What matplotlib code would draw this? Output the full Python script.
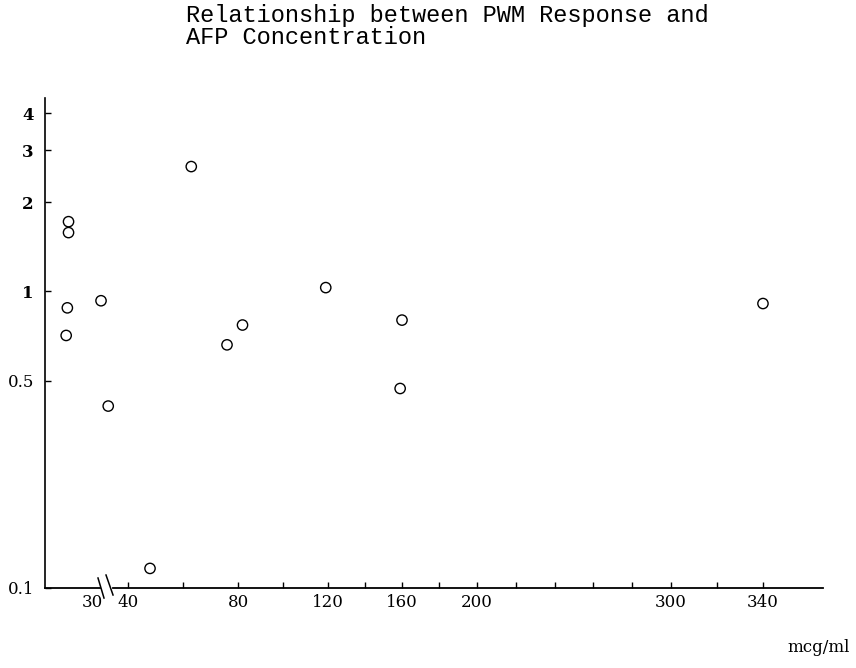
import numpy as np
import matplotlib
matplotlib.use('Agg')
import matplotlib.pyplot as plt
from matplotlib.scale import FuncScale

# AFP concentration (mcg/ml) and PWM response
conc = [20, 20, 19.5, 19, 32.5, 34.5, 48, 63, 76, 82, 119, 160, 159, 340]
response = [1.72, 1.58, 0.88, 0.71, 0.93, 0.41, 0.116, 2.64, 0.66, 0.77, 1.03, 0.80, 0.47, 0.91]

x_major = [30, 40, 80, 120, 160, 200, 300, 340]
x_minor = [60, 100, 140, 180, 220, 240, 260, 280, 320]
y_ticks = [0.1, 0.5, 1, 2, 3, 4]
y_labels = ['0.1', '0.5', '1', '2', '3', '4']

title = 'Relationship between PWM Response and\nAFP Concentration'
unit_label = 'mcg/ml'

# the printed x axis is broken after 30 and not evenly spaced,
# so map the labelled values to where they sit along the axis (in px)
axis_vals = [10, 30, 40, 80, 120, 160, 200, 300, 340, 366]
axis_px = [0, 47, 83, 193, 283, 357, 432, 626, 718, 778]


def forward(v):
    return np.interp(v, axis_vals, axis_px)


def inverse(p):
    return np.interp(p, axis_px, axis_vals)


fig = plt.figure(figsize=(8.56, 6.68), dpi=100)
ax = fig.add_axes([0.0526, 0.1205, 0.9088, 0.7328])

ax.scatter(conc, response, s=55, facecolors='none', edgecolors='black', linewidths=1.0, zorder=3)

ax.set_xscale(FuncScale(ax.xaxis, (forward, inverse)))
ax.set_yscale('log')
ax.set_xlim(10, 366)
ax.set_ylim(0.1, 4.5)

serif = 'DejaVu Serif'
ax.set_xticks(x_major)
ax.set_xticklabels([str(v) for v in x_major], family=serif, fontsize=12)
ax.set_xticks(x_minor, minor=True)
ax.set_xticklabels([], minor=True)
ax.xaxis.get_major_ticks()[0].tick1line.set_visible(False)

ax.set_yticks(y_ticks)
ax.set_yticklabels(y_labels, family=serif, fontsize=12)
ax.yaxis.set_minor_locator(matplotlib.ticker.NullLocator())
for lab in ax.get_yticklabels():
    if '.' not in lab.get_text():
        lab.set_fontweight('bold')

ax.tick_params(axis='x', which='both', direction='in', length=4, width=1, pad=5)
ax.tick_params(axis='y', which='both', direction='in', length=4, width=1, pad=8)

for side in ['top', 'right', 'bottom']:
    ax.spines[side].set_visible(False)
ax.spines['left'].set_linewidth(1.2)

# bottom axis line with a gap and break marks between 30 and 40
ax.plot([0, 0.0707], [0, 0], color='black', lw=1.3, transform=ax.transAxes, clip_on=False)
ax.plot([0.0874, 1], [0, 0], color='black', lw=1.3, transform=ax.transAxes, clip_on=False)
ax.plot([0.0681, 0.0758], [0.0194, -0.0215], color='black', lw=1.1, transform=ax.transAxes, clip_on=False)
ax.plot([0.0784, 0.0874], [0.0255, -0.0153], color='black', lw=1.1, transform=ax.transAxes, clip_on=False)

fig.text(0.2173, 0.994, title, family='Liberation Mono', fontsize=17,
         va='top', ha='left', linespacing=0.95)
fig.text(0.993, 0.03, unit_label, family=serif, fontsize=12, ha='right', va='center')

fig.savefig('out.png', dpi=100)
